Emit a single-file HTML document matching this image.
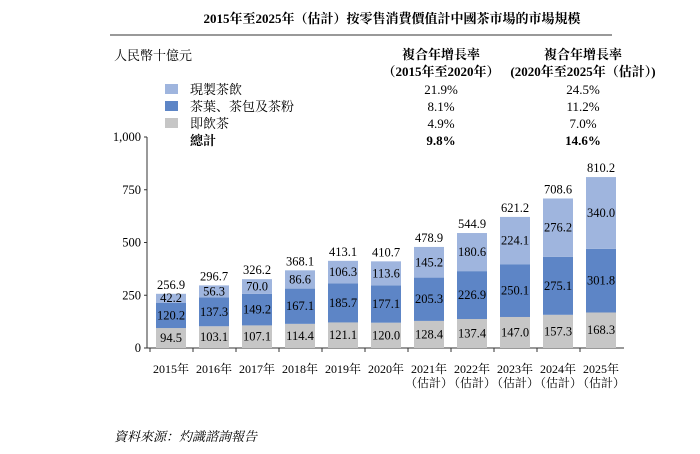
<!DOCTYPE html>
<html><head><meta charset="utf-8"><style>
body{margin:0;background:#fff;width:700px;height:449px;overflow:hidden;font-family:"Liberation Serif","Noto Serif CJK SC",serif;color:#111}
</style></head><body>
<svg width="700" height="449" style="font-family:'Liberation Serif','Noto Serif CJK SC',serif">
<text x="392" y="23" text-anchor="middle" font-size="13" font-weight="bold">2015年至2025年（估計）按零售消費價值計中國茶市場的市場規模</text>
<line x1="110" y1="35" x2="612" y2="35" stroke="#333" stroke-width="1"/>
<text x="114" y="60" font-size="13">人民幣十億元</text>
<g font-size="13" text-anchor="middle">
<text x="441" y="59" font-weight="bold">複合年增長率</text>
<text x="441" y="76" font-weight="bold">（2015年至2020年）</text>
<text x="583" y="59" font-weight="bold">複合年增長率</text>
<text x="583" y="76" font-weight="bold">(2020年至2025年（估計）)</text>
</g>
<g font-size="13">
<rect x="165" y="84" width="13" height="10" fill="#9fb5de"/>
<text x="190" y="94">現製茶飲</text><text x="441" y="94" text-anchor="middle">21.9%</text><text x="583" y="94" text-anchor="middle">24.5%</text>
<rect x="165" y="101" width="13" height="10" fill="#5d85c6"/>
<text x="190" y="111">茶葉、茶包及茶粉</text><text x="441" y="111" text-anchor="middle">8.1%</text><text x="583" y="111" text-anchor="middle">11.2%</text>
<rect x="165" y="118" width="13" height="10" fill="#c6c6c6"/>
<text x="190" y="128">即飲茶</text><text x="441" y="128" text-anchor="middle">4.9%</text><text x="583" y="128" text-anchor="middle">7.0%</text>
<text x="190" y="145" font-weight="bold">總計</text><text x="441" y="145" text-anchor="middle" font-weight="bold">9.8%</text><text x="583" y="145" text-anchor="middle" font-weight="bold">14.6%</text>
</g>
<g id="plot"></g>
<text x="114" y="441" font-size="13" font-style="italic">資料來源：灼識諮詢報告</text>
</svg>
<script>
const years=["2015年","2016年","2017年","2018年","2019年","2020年","2021年","2022年","2023年","2024年","2025年"];
const estimated=[0,0,0,0,0,0,1,1,1,1,1];
const rtd=[94.5,103.1,107.1,114.4,121.1,120.0,128.4,137.4,147.0,157.3,168.3];
const leaf=[120.2,137.3,149.2,167.1,185.7,177.1,205.3,226.9,250.1,275.1,301.8];
const fresh=[42.2,56.3,70.0,86.6,106.3,113.6,145.2,180.6,224.1,276.2,340.0];
const totals=[256.9,296.7,326.2,368.1,413.1,410.7,478.9,544.9,621.2,708.6,810.2];
const ticks=[0,250,500,750,1000];
const tickLabels=["0","250","500","750","1,000"];
const NS="http://www.w3.org/2000/svg",g=document.getElementById('plot');
const y0=348,y1=137,vmax=1000,x0=147,step=43,bw=30,first=156;
const Y=v=>y0-(v/vmax)*(y0-y1);
const X=i=>first+i*step;
function mk(t,a,p){const e=document.createElementNS(NS,t);for(const k in a)e.setAttribute(k,a[k]);(p||g).appendChild(e);return e;}
let ax=mk('line',{x1:x0,y1:y1,x2:x0,y2:y0,stroke:'#333'});


let bx=mk('line',{x1:x0,y1:y0,x2:X(years.length-1)+bw+8,y2:y0,stroke:'#333'});


ticks.forEach((t,i)=>{
 let l=mk('line',{x1:x0-3,y1:Y(t),x2:x0,y2:Y(t),stroke:'#333'});
 
 
 let tx=mk('text',{x:x0-6,y:Y(t)+4,'text-anchor':'end','font-size':12.5});
 
 
 tx.textContent=tickLabels[i];
});
years.forEach((yr,i)=>{
 const x=X(i);
 let tk=mk('line',{x1:x-6,y1:y0,x2:x-6,y2:y0+4,stroke:'#333'});
 
 
 const segs=[[rtd[i],'#c6c6c6','bar-rtd'],[leaf[i],'#5d85c6','bar-leaf'],[fresh[i],'#9fb5de','bar-fresh']];
 let base=0;
 segs.forEach(s=>{
  let r=mk('rect',{x:x,y:Y(base+s[0]),width:bw,height:Y(base)-Y(base+s[0]),fill:s[1]});
  
  
  let t=mk('text',{x:x+bw/2,y:(Y(base)+Y(base+s[0]))/2+4,'text-anchor':'middle','font-size':12.5});
  
  
  t.textContent=s[0].toFixed(1);
  base+=s[0];
 });
 let tt=mk('text',{x:x+bw/2,y:Y(totals[i])-5,'text-anchor':'middle','font-size':12.5});
 
 
 tt.textContent=totals[i].toFixed(1);
 let yl=mk('text',{x:x+bw/2,y:y0+25,'text-anchor':'middle','font-size':12});
 
 
 yl.textContent=yr;
 if(estimated[i]){
  let el=mk('text',{x:x+bw/2,y:y0+39,'text-anchor':'middle','font-size':12});
  
  
  el.textContent='（估計）';
 }
});
</script>
</body></html>
